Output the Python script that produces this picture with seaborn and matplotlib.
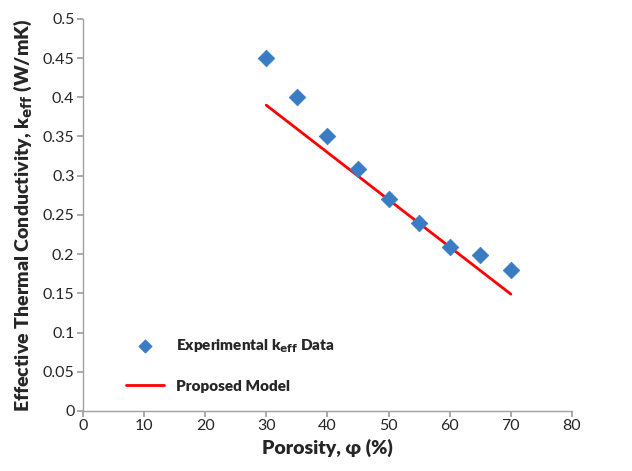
import matplotlib
matplotlib.use("Agg")
import matplotlib.pyplot as plt
import seaborn as sns
import pandas as pd

porosity = [30, 35, 40, 45, 50, 55, 60, 65, 70]
k_exp = [0.45, 0.40, 0.35, 0.308, 0.27, 0.24, 0.209, 0.199, 0.18]
model_x = [30, 70]
model_y = [0.39, 0.149]

sns.set_theme(style="white")
plt.rcParams['font.family'] = ['Lato', 'DejaVu Sans']

fig = plt.figure(figsize=(6.32, 4.71), dpi=100)
ax = fig.add_axes([0.131, 0.1274, 0.774, 0.8326])

df_exp = pd.DataFrame({"x": porosity, "y": k_exp})
df_mod = pd.DataFrame({"x": model_x, "y": model_y})

sns.lineplot(data=df_mod, x="x", y="y", ax=ax, color="#ff0000", linewidth=2,
             label="Proposed Model", zorder=2)
sns.scatterplot(data=df_exp, x="x", y="y", ax=ax, marker="D", s=72,
                color="#3a7cc4", edgecolor="#3a7cc4", linewidth=0.5,
                label=r"Experimental k$_{\mathbf{eff}}$ Data", zorder=3)

ax.set_xlim(0, 80)
ax.set_ylim(0, 0.5)
ax.set_xticks(range(0, 81, 10))
ax.set_yticks([i * 0.05 for i in range(11)])
ax.set_yticklabels(["0", "0.05", "0.1", "0.15", "0.2", "0.25", "0.3", "0.35", "0.4", "0.45", "0.5"])
ax.tick_params(axis="both", labelsize=11.5, length=4, color="#a0a0a0", direction="out",
               left=True, bottom=True, pad=2)
for s in ["top", "right"]:
    ax.spines[s].set_visible(False)
for s in ["left", "bottom"]:
    ax.spines[s].set_color("#a0a0a0")
    ax.spines[s].set_linewidth(1)

ax.set_xlabel("Porosity, φ (%)", fontsize=14, fontweight="heavy", labelpad=4)
ax.set_ylabel(r"Effective Thermal Conductivity, k$_{\mathbf{eff}}$ (W/mK)", fontsize=14,
              fontweight="heavy", labelpad=6)

handles, labels = ax.get_legend_handles_labels()
order = [1, 0]
leg = ax.legend([handles[i] for i in order], [labels[i] for i in order],
                loc="lower left", bbox_to_anchor=(0.06, 0.012), frameon=False,
                labelspacing=1.6, handlelength=2.5, markerscale=0.8,
                prop={"weight": "heavy", "size": 11})

fig.savefig("out.png", dpi=100)
